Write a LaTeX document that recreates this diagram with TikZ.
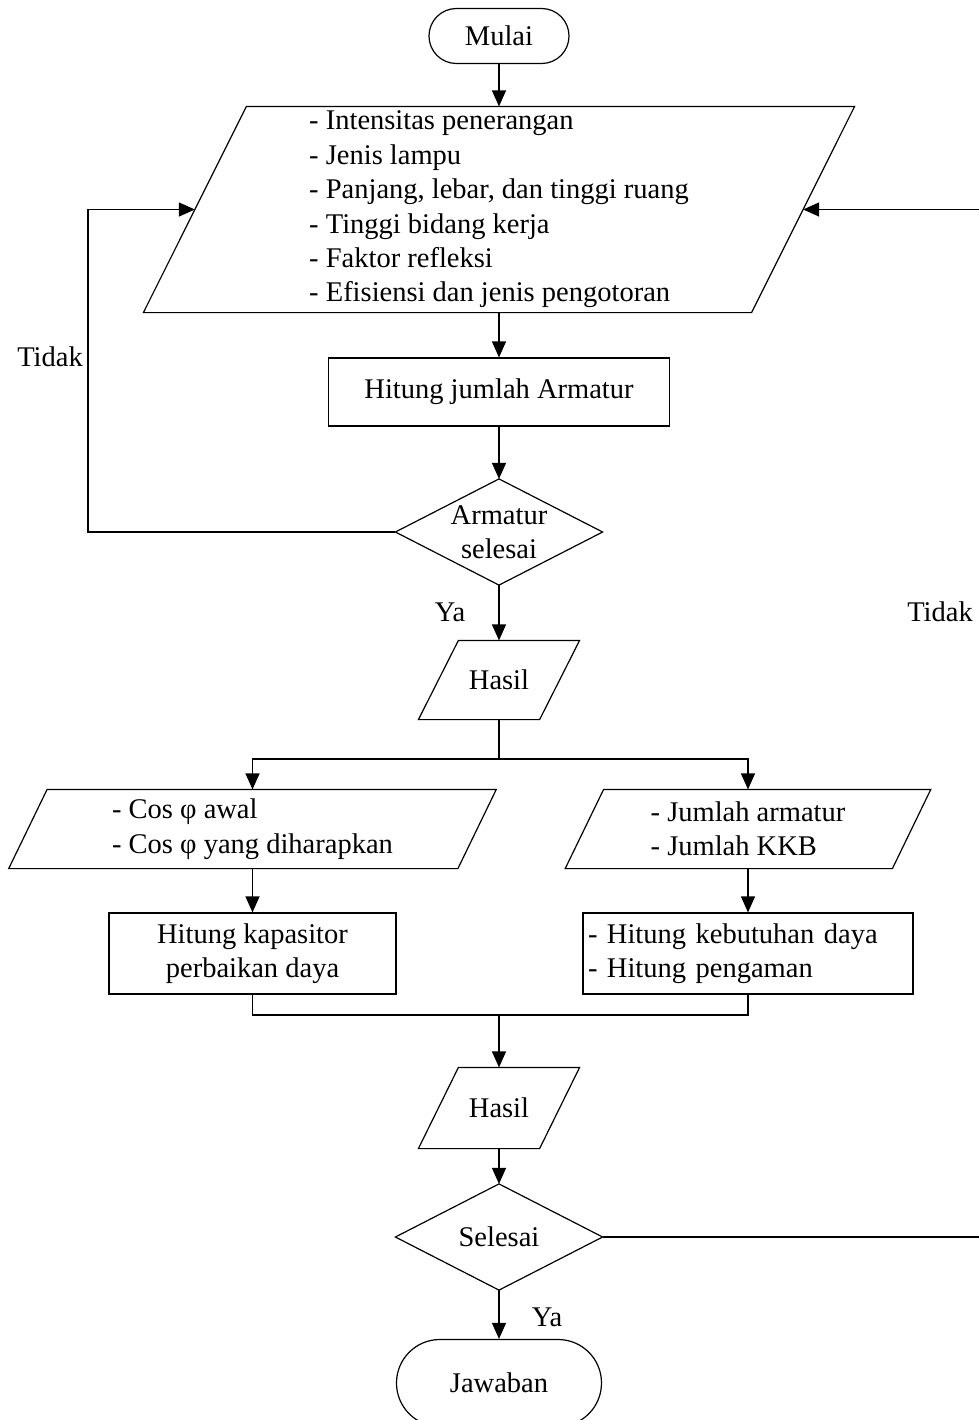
\documentclass[tikz,border=0pt]{standalone}
\usepackage{fontspec}
\setmainfont{Liberation Serif}
\usetikzlibrary{arrows.meta}
\newcommand\slin{25.75pt}
\newcommand\slout{10pt}
\newcommand\slpar{9.6pt}

\begin{document}
\begin{tikzpicture}[x=0.5pt,y=-0.5pt,line width=0.6pt,
    >={Triangle[length=8pt,width=7pt]},
    every node/.style={font=\fontsize{14.25}{17.2}\selectfont,inner sep=0pt,align=center},
    terminal/.style={draw,rounded corners=#1}]
    \useasboundingbox (0,0) rectangle (979,1420);

    % shapes
    \node[terminal=13.7pt,minimum width=70pt,minimum height=27.5pt] (mulai) at (499,36) {Mulai};
    \node[align=left,minimum width=303.5pt,minimum height=102.5pt] (input) at (499,209.5)
      {- Intensitas penerangan\\- Jenis lampu\\- Panjang, lebar, dan tinggi ruang\\- Tinggi bidang kerja\\- Faktor refleksi\\- Efisiensi dan jenis pengotoran};
    \node[draw,minimum width=170.5pt,minimum height=34pt] (hitung) at (499,392) {Hitung jumlah Armatur};
    \node[minimum width=103pt,minimum height=52.5pt] (armatur) at (499,532) {Armatur\\selesai};
    \node[minimum width=60pt,minimum height=39pt] (hasil) at (499,680) {Hasil};
    \node[align=left,minimum width=224pt,minimum height=39pt] (cosphi) at (252.5,829) {- Cos φ awal\\- Cos φ yang diharapkan};
    \node[align=left,minimum width=163pt,minimum height=39pt] (jumlah) at (748,829) {- Jumlah armatur\\- Jumlah KKB};
    \node[draw,minimum width=143.5pt,minimum height=40.5pt] (kapasitor) at (252.5,953.5) {Hitung kapasitor\\perbaikan daya};
    \node[draw,align=left,text width=160pt,inner sep=2.5pt,minimum height=40.5pt] (daya) at (748,953.5) {- Hitung kebutuhan daya\\- Hitung pengaman};
    \node[minimum width=60pt,minimum height=40pt] (hasilb) at (499,1108) {Hasil};
    \node[minimum width=103pt,minimum height=52.5pt] (selesai) at (499,1237) {Selesai};
    \node[terminal=21.7pt,minimum width=102.5pt,minimum height=43.5pt] (jawaban) at (499,1383) {Jawaban};

    % outlines
    \foreach \d in {armatur,selesai}
      \draw (\d.north) -- (\d.east) -- (\d.south) -- (\d.west) -- cycle;
    \foreach \p/\s in {input/\slin,hasil/\slout,cosphi/\slpar,jumlah/\slpar,hasilb/\slout}
      \draw ([xshift=-\s]\p.south west) -- ([xshift=-\s]\p.south east) -- ([xshift=\s]\p.north east) -- ([xshift=\s]\p.north west) -- cycle;

    % labels
    \node (tidakkiri) at (50,357) {Tidak};
    \node (ya) at (450,612) {Ya};
    \node (tidakkanan) at (940,612) {Tidak};
    \node (yab) at (547,1317) {Ya};

    % connectors
    \coordinate (backleft) at (88,532);
    \coordinate (backright) at (995,1237);
    \coordinate (split) at (499,759);
    \coordinate (join) at (499,1015);

    \draw[->] (mulai.south) -- (input.north);
    \draw[->] (input.south) -- (hitung.north);
    \draw[->] (hitung.south) -- (armatur.north);
    \draw[->] (armatur.west) -- (backleft) |- (input.west);
    \draw[->] (armatur.south) -- (hasil.north);
    \draw (hasil.south) -- (split);
    \draw[->] (split) -| (cosphi.north);
    \draw[->] (split) -| (jumlah.north);
    \draw[->] (cosphi.south) -- (kapasitor.north);
    \draw[->] (jumlah.south) -- (daya.north);
    \draw (kapasitor.south) |- (join) -| (daya.south);
    \draw[->] (join) -- (hasilb.north);
    \draw[->] (hasilb.south) -- (selesai.north);
    \draw[->] (selesai.east) -- (backright) |- (input.east);
    \draw[->] (selesai.south) -- (jawaban.north);
\end{tikzpicture}
\end{document}
